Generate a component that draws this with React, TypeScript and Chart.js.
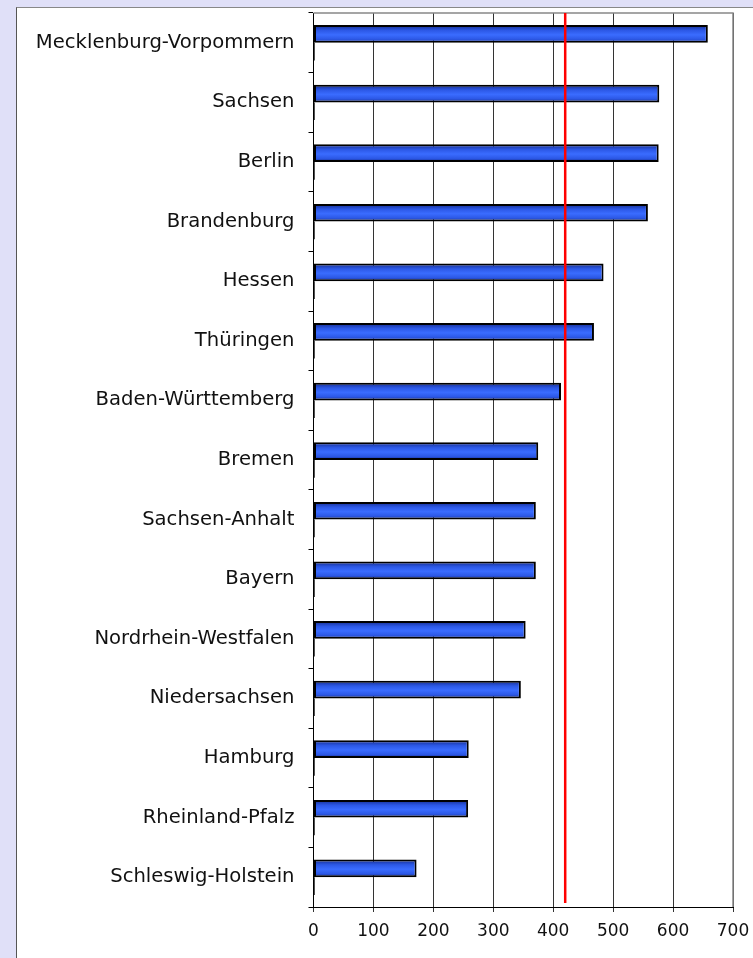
import React, { useEffect, useRef } from "react";
import { Chart, registerables } from "chart.js";

Chart.register(...registerables);

const categories = [
  "Mecklenburg-Vorpommern",
  "Sachsen",
  "Berlin",
  "Brandenburg",
  "Hessen",
  "Thüringen",
  "Baden-Württemberg",
  "Bremen",
  "Sachsen-Anhalt",
  "Bayern",
  "Nordrhein-Westfalen",
  "Niedersachsen",
  "Hamburg",
  "Rheinland-Pfalz",
  "Schleswig-Holstein",
];
const mainValues = [658, 577, 576, 558, 484, 468, 413, 375, 371, 371, 354, 346, 259, 258, 172];
const secondValues = [2, 2, 2, 2, 2, 2, 2, 2, 2, 2, 2, 2, 2, 2, 2];
const referenceValue = 420;
const xMin = 0;
const xMax = 700;
const xStep = 100;

export default function App() {
  const canvasRef = useRef<HTMLCanvasElement | null>(null);

  useEffect(() => {
    const canvas = canvasRef.current;
    if (!canvas) return;

    const gradientPlugin = {
      id: "barGradient",
      beforeDatasetsDraw(chart: any) {
        const ctx = chart.ctx;
        const meta = chart.getDatasetMeta(0);
        meta.data.forEach((el: any) => {
          const { y, height } = el.getProps(["y", "height"], true);
          const top = y - height / 2;
          const g = ctx.createLinearGradient(0, top, 0, top + height);
          g.addColorStop(0, "#142a8a");
          g.addColorStop(0.3, "#2c58e6");
          g.addColorStop(0.55, "#3a6cff");
          g.addColorStop(0.8, "#2c58e6");
          g.addColorStop(1, "#142a8a");
          el.options = { ...el.options, backgroundColor: g };
        });
        const { left, right, top, bottom } = chart.chartArea;
        ctx.save();
        ctx.strokeStyle = "#888888";
        ctx.lineWidth = 1.5;
        ctx.beginPath();
        ctx.moveTo(left, top);
        ctx.lineTo(right, top);
        ctx.lineTo(right, bottom);
        ctx.stroke();
        ctx.restore();
      },
      afterDatasetsDraw(chart: any) {
        const ctx = chart.ctx;
        const x = chart.scales.x.getPixelForValue(referenceValue);
        const { top, bottom } = chart.chartArea;
        ctx.save();
        ctx.strokeStyle = "#ff0000";
        ctx.lineWidth = 2.5;
        ctx.beginPath();
        ctx.moveTo(x, top);
        ctx.lineTo(x, bottom - 4);
        ctx.stroke();
        ctx.restore();
      },
    };

    const chart = new Chart(canvas, {
      type: "bar",
      data: {
        labels: categories,
        datasets: [
          {
            data: mainValues,
            backgroundColor: () => "#3366ff",
            borderColor: "#000000",
            borderWidth: 2,
            borderSkipped: false,
            categoryPercentage: 0.594,
            barPercentage: 1,
          },
          {
            data: secondValues,
            backgroundColor: "#000000",
            borderWidth: 0,
            categoryPercentage: 0.594,
            barPercentage: 1,
          },
        ],
      },
      options: {
        indexAxis: "y",
        responsive: false,
        animation: false,
        layout: { padding: { top: 13, right: 20, bottom: 0, left: 0 } },
        plugins: {
          legend: { display: false },
          tooltip: { enabled: false },
        },
        scales: {
          x: {
            type: "linear",
            min: xMin,
            max: xMax,
            ticks: {
              stepSize: xStep,
              color: "#111111",
              font: { family: "'DejaVu Sans'", size: 17 },
              padding: 9,
            },
            grid: {
              color: "#333333",
              lineWidth: 1,
              tickLength: 5,
              drawTicks: true,
            },
            border: { display: true, color: "#000000", width: 1 },
            afterFit(scale: any) {
              scale.height = 51;
              scale.paddingLeft = 0;
              scale.paddingRight = 0;
            },
          },
          y: {
            type: "category",
            ticks: {
              color: "#111111",
              font: { family: "'DejaVu Sans'", size: 19.6 },
              padding: 14,
            },
            grid: {
              drawOnChartArea: false,
              drawTicks: true,
              tickLength: 5,
              color: "#000000",
              offset: true,
            },
            border: { display: true, color: "#000000", width: 1 },
            afterFit(scale: any) {
              scale.width = 313.5;
              scale.paddingTop = 0;
              scale.paddingBottom = 0;
            },
          },
        },
      },
      plugins: [gradientPlugin],
    });

    return () => {
      chart.destroy();
    };
  }, []);

  return (
    <div
      style={{
        position: "fixed",
        left: 0,
        top: 0,
        width: 753,
        height: 958,
        background: "#e0e0f8",
        overflow: "hidden",
      }}
    >
      <div
        style={{
          position: "absolute",
          left: 16,
          top: 7,
          width: 753,
          height: 958,
          background: "#ffffff",
          borderTop: "1px solid #888888",
          borderLeft: "1.5px solid #555555",
        }}
      />
      <canvas
        ref={canvasRef}
        width={753}
        height={958}
        style={{ position: "absolute", left: 0, top: 0, width: 753, height: 958 }}
      />
    </div>
  );
}
